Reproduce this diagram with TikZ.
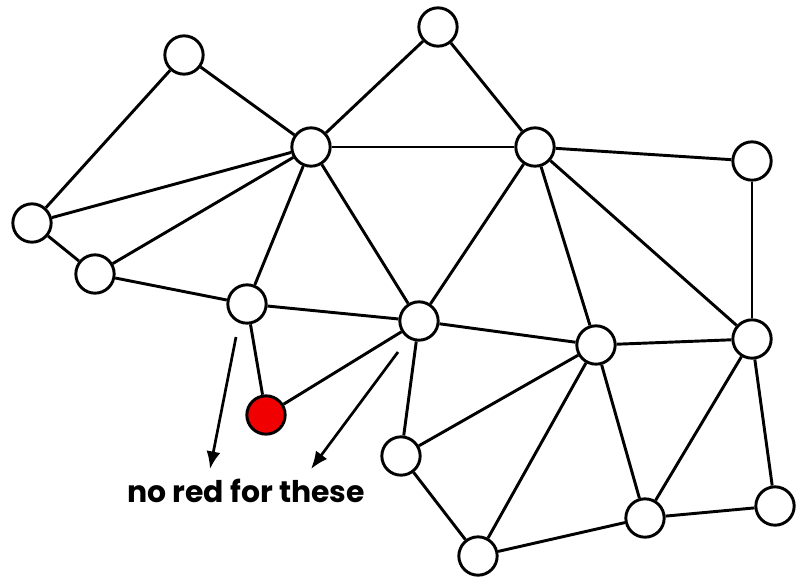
\documentclass[tikz,border=0pt]{standalone}
\usepackage{fontspec}
\usepackage{xcolor}
\usepackage{tikz}
\usetikzlibrary{arrows.meta}
\newfontfamily\notefont{Poppins}
\definecolor{dotRed}{RGB}{240,0,0}

\begin{document}
\begin{tikzpicture}[x=0.03cm, y=-0.03cm,
		every node/.style={circle, draw=black, line width=2.5pt, fill=white, minimum size=1.15cm, inner sep=0pt},
		link/.style={line width=2.5pt},
		pointer/.style={line width=2.3pt, -{Latex[length=15pt,width=12pt]}}]
		\useasboundingbox (0,0) rectangle (796,581);
		\node (a) at (184,55) {};
		\node (b) at (438,27) {};
		\node (c) at (311,147) {};
		\node (d) at (535,147) {};
		\node (e) at (752,161) {};
		\node (f) at (32,223) {};
		\node (g) at (95,274) {};
		\node (h) at (247,304) {};
		\node (i) at (419,321) {};
		\node (j) at (596,345) {};
		\node (k) at (752,339) {};
		\node[fill=dotRed] (r) at (266,415) {};
		\node (l) at (401,456) {};
		\node (m) at (645,518) {};
		\node (n) at (775,506) {};
		\node (o) at (478,556) {};
		\foreach \u/\v in {a/f, a/c, f/c, f/g, g/c, g/h, b/c, b/d, c/d, c/h, c/i, d/i, d/j, d/k, d/e,
			e/k, h/i, h/r, i/r, i/l, i/j, j/k, j/l, j/o, j/m, k/m, k/n, l/o, o/m, m/n}
			\draw[link] (\u) -- (\v);
		\coordinate (p1) at (236,337);
		\coordinate (q1) at (210,469);
		\coordinate (p2) at (398,352);
		\coordinate (q2) at (311,469);
		\draw[pointer] (p1) -- (q1);
		\draw[pointer] (p2) -- (q2);
		\node[draw=none, fill=none, shape=rectangle, inner sep=0pt, font=\notefont\bfseries\fontsize{25.5}{28}\selectfont] (note) at (246,491) {no red for these};
	\end{tikzpicture}
\end{document}
